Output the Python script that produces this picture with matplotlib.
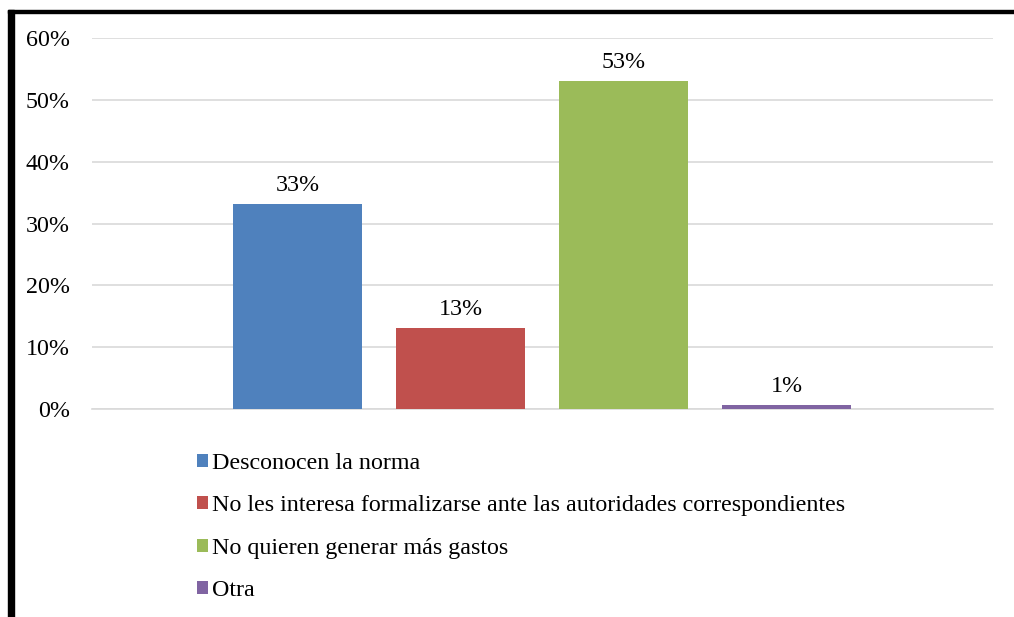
import matplotlib.pyplot as plt
from matplotlib.patches import Patch, Rectangle
from matplotlib.ticker import PercentFormatter

# data
categories = ["Desconocen la norma",
              "No les interesa formalizarse ante las autoridades correspondientes",
              "No quieren generar más gastos",
              "Otra"]
values = [0.332, 0.131, 0.530, 0.006]
labels = ["33%", "13%", "53%", "1%"]
colors = ["#4F81BD", "#C0504D", "#9BBB59", "#8064A2"]

plt.rcParams['font.family'] = ['Liberation Serif', 'DejaVu Serif']
fs = 17.3

W, H = 1014, 617
fig = plt.figure(figsize=(W / 100, H / 100), dpi=100)
ax = fig.add_axes([92 / W, 1 - 409 / H, (993 - 92) / W, (409 - 38) / H])

x = list(range(len(values)))
ax.bar(x, values, width=0.79, color=colors, zorder=3)
for xi, v, lab in zip(x, values, labels):
    ax.text(xi, v + 0.013, lab, ha='center', va='bottom', fontsize=fs)

ax.set_xlim(-1.261, 4.267)
ax.set_ylim(0, 0.6)
ax.set_yticks([0, 0.1, 0.2, 0.3, 0.4, 0.5, 0.6])
ax.yaxis.set_major_formatter(PercentFormatter(1.0, decimals=0))
ax.set_xticks([])
ax.tick_params(axis='y', length=0, pad=16, labelsize=fs)
ax.grid(axis='y', color='#d9d9d9', linewidth=1.2, zorder=0)
for s in ['top', 'right', 'left']:
    ax.spines[s].set_visible(False)
ax.spines['bottom'].set_color('#d9d9d9')
ax.spines['bottom'].set_linewidth(1.2)

handles = [Patch(facecolor=c) for c in colors]
fig.legend(handles, categories, loc='upper left',
           bbox_to_anchor=(197 / W, 1 - 453 / H), frameon=False,
           fontsize=fs, handlelength=0.47, handleheight=0.47,
           handletextpad=0.15, labelspacing=0.89, borderaxespad=0,
           borderpad=0)

# black frame (top and left edges visible)
fig.patches.append(Rectangle((8 / W, 1 - 13 / H), 1, 3 / H, transform=fig.transFigure,
                             color='black', zorder=10))
fig.patches.append(Rectangle((8 / W, 0), 6 / W, 1 - 10 / H, transform=fig.transFigure,
                             color='black', zorder=10))

fig.savefig('out.png', dpi=100)
